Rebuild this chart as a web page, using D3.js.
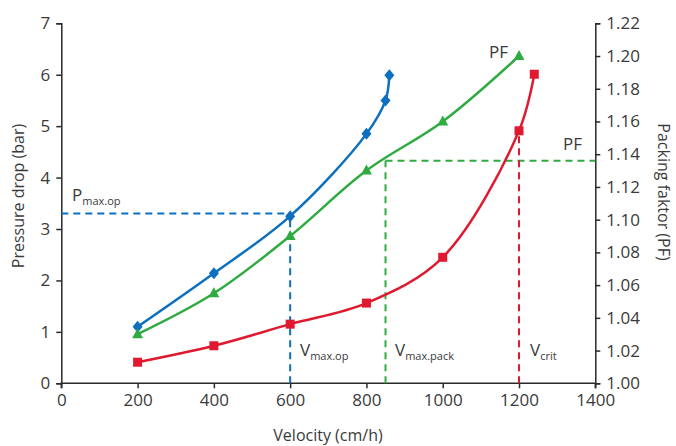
<!DOCTYPE html>
<html><head><meta charset="utf-8">
<script src="https://cdn.jsdelivr.net/npm/d3@7"></script>
<style>
html,body{margin:0;padding:0;background:#fff;}
svg{display:block;}
text{font-family:"Open Sans",sans-serif;fill:#3a3a3a;}
</style></head>
<body>
<svg id="c" width="676" height="446"></svg>
<script>
// Data
const blueVel = [200, 400, 600, 800, 850, 860];
const bluePressure = [1.10, 2.14, 3.25, 4.85, 5.50, 5.99];
const greenVel = [200, 400, 600, 800, 1000, 1200];
const greenPF = [1.030, 1.055, 1.090, 1.130, 1.160, 1.200];
const redVel = [200, 400, 600, 800, 1000, 1200, 1240];
const redPressure = [0.41, 0.73, 1.15, 1.56, 2.45, 4.91, 6.01];
const xTicks = [0, 200, 400, 600, 800, 1000, 1200, 1400];
const yLeftTicks = [0, 1, 2, 3, 4, 5, 6, 7];
const yRightTicks = [1.00, 1.02, 1.04, 1.06, 1.08, 1.10, 1.12, 1.14, 1.16, 1.18, 1.20, 1.22];
const pMaxOp = 3.3, vMaxOp = 600;
const vMaxPack = 850, pfPack = 1.136;
const vCrit = 1200, pCrit = 4.91;

const colors = {blue:"#0c6fbf", green:"#2fab41", red:"#df1a30", axis:"#2a2a2a"};

const W = 676, H = 446;
const m = {left:61.3, top:23.3, right:80.7, bottom:62.7};
const svg = d3.select("#c");
const x = d3.scaleLinear().domain([0,1400]).range([m.left, W - m.right]);
const yL = d3.scaleLinear().domain([0,7]).range([H - m.bottom, m.top]);
const yR = d3.scaleLinear().domain([1.00,1.22]).range([H - m.bottom, m.top]);

// Axes
const fs = "17px";
const gx = svg.append("g").attr("transform", `translate(0,${H - m.bottom})`)
  .call(d3.axisBottom(x).tickValues(xTicks).tickSize(5).tickPadding(6).tickFormat(d3.format("d")));
const gl = svg.append("g").attr("transform", `translate(${m.left},0)`)
  .call(d3.axisLeft(yL).tickValues(yLeftTicks).tickSize(5).tickPadding(6).tickFormat(d3.format("d")));
const gr = svg.append("g").attr("transform", `translate(${W - m.right},0)`)
  .call(d3.axisRight(yR).tickValues(yRightTicks).tickSize(5).tickPadding(6).tickFormat(d3.format(".2f")));
[gx, gl, gr].forEach(g => {
  g.select(".domain").attr("stroke", colors.axis).attr("stroke-width", 1.5);
  g.selectAll(".tick line").attr("stroke", colors.axis).attr("stroke-width", 1.5);
  g.selectAll(".tick text").attr("font-size", fs).attr("font-family", "'Open Sans',sans-serif").attr("fill", "#3a3a3a");
});
gx.select(".domain").attr("d", `M${m.left},5V0H${W - m.right}V5`);

// Axis titles
svg.append("text").attr("transform", `translate(24,196) rotate(-90)`).attr("text-anchor","middle")
  .attr("font-size","16px").text("Pressure drop (bar)");
svg.append("text").attr("transform", `translate(658,192) rotate(90)`).attr("text-anchor","middle")
  .attr("font-size","16px").text("Packing faktor (PF)");
svg.append("text").attr("x", 328).attr("y", 441).attr("text-anchor","middle")
  .attr("font-size","16px").text("Velocity (cm/h)");

// Dashed reference lines
const dash = "7,5";
svg.append("path").attr("d", `M${x(0)},${yL(pMaxOp)}H${x(vMaxOp)}M${x(vMaxOp)},${yL(0)}V${yL(pMaxOp)}`)
  .attr("stroke", colors.blue).attr("stroke-width", 2).attr("stroke-dasharray", dash).attr("fill","none");
svg.append("path").attr("d", `M${x(vMaxPack)},${yR(1.0)}V${yR(pfPack)}M${x(vMaxPack)},${yR(pfPack)}H${x(1400)}`)
  .attr("stroke", colors.green).attr("stroke-width", 2).attr("stroke-dasharray", dash).attr("fill","none");
svg.append("path").attr("d", `M${x(vCrit)},${yL(0)}V${yL(pCrit)}`)
  .attr("stroke", colors.red).attr("stroke-width", 2).attr("stroke-dasharray", dash).attr("fill","none");

// Lines
const curve = d3.curveCatmullRom.alpha(0.5);
function drawSeries(xs, ys, yScale, color) {
  const pts = xs.map((v,i) => [x(v), yScale(ys[i])]);
  svg.append("path").datum(pts).attr("d", d3.line().curve(curve))
    .attr("fill","none").attr("stroke", color).attr("stroke-width", 2.5);
  return pts;
}
const bp = drawSeries(blueVel, bluePressure, yL, colors.blue);
const gp = drawSeries(greenVel, greenPF, yR, colors.green);
const rp = drawSeries(redVel, redPressure, yL, colors.red);

// Markers
svg.append("g").selectAll("path").data(bp).join("path")
  .attr("d", d => `M${d[0]},${d[1]-6}L${d[0]+5},${d[1]}L${d[0]},${d[1]+6}L${d[0]-5},${d[1]}Z`)
  .attr("fill", colors.blue);
svg.append("g").selectAll("path").data(gp).join("path")
  .attr("d", d => `M${d[0]},${d[1]-6}L${d[0]+5.5},${d[1]+4}L${d[0]-5.5},${d[1]+4}Z`)
  .attr("fill", colors.green);
svg.append("g").selectAll("rect").data(rp).join("rect")
  .attr("x", d => d[0]-4.5).attr("y", d => d[1]-4.5).attr("width", 9).attr("height", 9)
  .attr("fill", colors.red);

// Annotations
function subLabel(px, py, main, sub) {
  const t = svg.append("text").attr("x", px).attr("y", py).attr("font-size","17px");
  t.append("tspan").text(main);
  if (sub) t.append("tspan").attr("font-size","11px").attr("dy", 4).text(sub);
}
subLabel(72, 201, "P", "max.op");
subLabel(300, 356, "V", "max.op");
subLabel(395, 356, "V", "max.pack");
subLabel(530, 356, "V", "crit");
subLabel(489, 58, "PF");
subLabel(563, 150, "PF");
</script>
</body></html>
